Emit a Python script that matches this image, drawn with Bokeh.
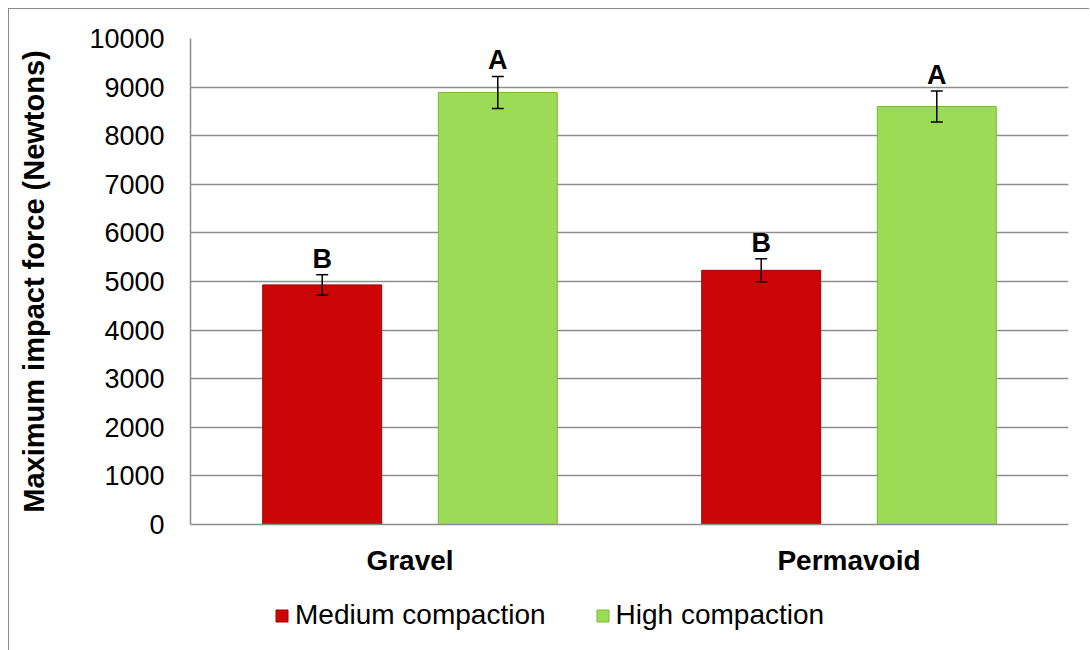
from bokeh.plotting import figure
from bokeh.layouts import column
from bokeh.models import (ColumnDataSource, FactorRange, Range1d, Whisker, TeeHead,
                          Legend, LegendItem, SingleIntervalTicker)
from bokeh.transform import dodge
from bokeh.core.properties import value
from bokeh.embed import file_html
from bokeh.resources import INLINE

categories = ["Gravel", "Permavoid"]
medium = [4930, 5230]
medium_err = [210, 237]
medium_letters = ["B", "B"]
high = [8890, 8600]
high_err = [330, 320]
high_letters = ["A", "A"]
series_names = ["Medium compaction", "High compaction"]

FONT = "Liberation Sans"
RED = "#CC0606"
RED_EDGE = "#A00000"
GREEN = "#9BDB56"
GREEN_EDGE = "#7DB53F"

src_m = ColumnDataSource(dict(cat=categories, val=medium,
                              lo=[v - e for v, e in zip(medium, medium_err)],
                              hi=[v + e for v, e in zip(medium, medium_err)],
                              lab=medium_letters))
src_h = ColumnDataSource(dict(cat=categories, val=high,
                              lo=[v - e for v, e in zip(high, high_err)],
                              hi=[v + e for v, e in zip(high, high_err)],
                              lab=high_letters))

p = figure(x_range=FactorRange(*categories, range_padding=0), y_range=Range1d(0, 10000),
           frame_width=877, frame_height=485,
           min_border_left=181, min_border_right=22, min_border_top=29, min_border_bottom=75,
           output_backend="svg", toolbar_location=None)
p.margin = (8, 0, 0, 8)
p.styles = {"border-left": "1px solid #8c8c8c", "border-top": "1px solid #8c8c8c"}
p.outline_line_color = None
p.background_fill_color = "white"
p.border_fill_color = "white"

OFF = 0.2
W = 0.271
p.vbar(x=dodge("cat", -OFF, range=p.x_range), top="val", width=W, source=src_m,
       fill_color=RED, line_color=RED_EDGE, line_width=1)
p.vbar(x=dodge("cat", OFF, range=p.x_range), top="val", width=W, source=src_h,
       fill_color=GREEN, line_color=GREEN_EDGE, line_width=1)

for src, off in ((src_m, -OFF), (src_h, OFF)):
    w = Whisker(base=dodge("cat", off, range=p.x_range), lower="lo", upper="hi", source=src,
                line_color="black", line_width=1.5, level="overlay",
                upper_head=TeeHead(size=12, line_color="black", line_width=1.5),
                lower_head=TeeHead(size=12, line_color="black", line_width=1.5))
    p.add_layout(w)
    p.text(x=dodge("cat", off, range=p.x_range), y="hi", text="lab", source=src,
           text_font=value(FONT), text_font_style="bold", text_font_size="27px",
           text_align="center", text_baseline="bottom", y_offset=-1, text_color="black")

# axes
p.yaxis.ticker = SingleIntervalTicker(interval=1000)
p.yaxis.axis_label = "Maximum impact force (Newtons)"
p.yaxis.axis_label_text_font = FONT
p.yaxis.axis_label_text_font_style = "bold"
p.yaxis.axis_label_text_font_size = "29px"
p.yaxis.axis_label_text_color = "black"
p.yaxis.axis_label_standoff = 36
p.yaxis.major_label_text_font = FONT
p.yaxis.major_label_text_font_size = "27px"
p.yaxis.major_label_text_color = "black"
p.yaxis.major_label_standoff = 26
p.yaxis.major_tick_out = 0
p.yaxis.major_tick_in = 0
p.yaxis.minor_tick_out = 0
p.yaxis.minor_tick_in = 0
p.yaxis.axis_line_color = "#8c8c8c"
p.yaxis.axis_line_width = 1.5

p.xaxis.major_label_text_font = FONT
p.xaxis.major_label_text_font_style = "bold"
p.xaxis.major_label_text_font_size = "28px"
p.xaxis.major_label_text_color = "black"
p.xaxis.major_label_standoff = 20
p.xaxis.major_tick_out = 0
p.xaxis.major_tick_in = 0
p.xaxis.axis_line_color = "#8c8c8c"
p.xaxis.axis_line_width = 1.5

p.xgrid.grid_line_color = None
p.ygrid.grid_line_color = "#8E8E8E"
p.ygrid.grid_line_width = 1.5

# legend strip (separate small figure so the legend is not clipped);
# its y range lies above all values, so its bars stay out of view and only feed the legend
p2 = figure(width=1080, height=52, x_range=FactorRange(*categories, range_padding=0),
            y_range=Range1d(20000, 30000),
            min_border=0, x_axis_location=None, y_axis_location=None,
            output_backend="svg", toolbar_location=None)
p2.margin = (0, 0, 0, 8)
p2.styles = {"border-left": "1px solid #8c8c8c"}
p2.outline_line_color = None
p2.xgrid.visible = False
p2.ygrid.visible = False
p2.background_fill_color = "white"
p2.border_fill_color = "white"
lm = p2.vbar(x=dodge("cat", -OFF, range=p2.x_range), top="val", width=W, source=src_m,
             fill_color=RED, line_color=RED_EDGE)
lh = p2.vbar(x=dodge("cat", OFF, range=p2.x_range), top="val", width=W, source=src_h,
             fill_color=GREEN, line_color=GREEN_EDGE)
legend = Legend(items=[LegendItem(label=series_names[0], renderers=[lm]),
                       LegendItem(label=series_names[1], renderers=[lh])],
                orientation="horizontal", location=(84, 19),
                label_text_font=FONT, label_text_font_size="28px", label_text_color="black",
                glyph_width=15, glyph_height=15, label_standoff=6, spacing=49,
                padding=0, margin=0, border_line_color=None, background_fill_alpha=0)
p2.add_layout(legend, "center")

layout = column(p, p2, spacing=0)
open("out.html", "w").write(file_html(layout, INLINE))
